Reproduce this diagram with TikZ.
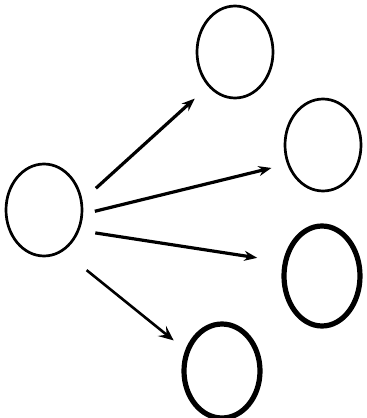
\documentclass[tikz,border=0pt]{standalone}
\usetikzlibrary{arrows.meta,shapes.geometric,positioning}

\begin{document}
\begin{tikzpicture}[x=1pt,y=-1pt,>=Stealth,
  ring/.style={draw,ellipse,inner sep=0pt,minimum width=76pt,minimum height=92pt,line width=2.7pt},
  boldring/.style={ring,line width=5.2pt},
  arr/.style={->,line width=3.2pt,-{Stealth[length=13pt,width=10pt]}}]
  \useasboundingbox (0,0) rectangle (367,418);

  % source on the left
  \node[ring] (src) at (44,210) {};

  % the four targets
  \node[ring] (t1) at (235,52) {};
  \node[ring] (t2) at (323,145) {};
  \node[boldring,minimum height=100pt] (t3) at (322,276) {};
  \node[boldring,minimum height=94pt] (t4) at (222,371) {};

  % arrows fanning out
  \draw[arr,shorten <=18pt,shorten >=18pt] (src.14) -- (t1.232);
  \draw[arr,shorten <=12pt,shorten >=16pt] (src.354) -- (t2.208);
  \draw[arr,shorten <=16pt,shorten >=26pt] (src.330) -- (t3.160);
  \draw[line width=2.6pt,-{Stealth[length=15pt,width=13pt,inset=6pt]},
    shorten <=30pt,shorten >=15pt] (src.295) -- (t4.150);
\end{tikzpicture}
\end{document}
